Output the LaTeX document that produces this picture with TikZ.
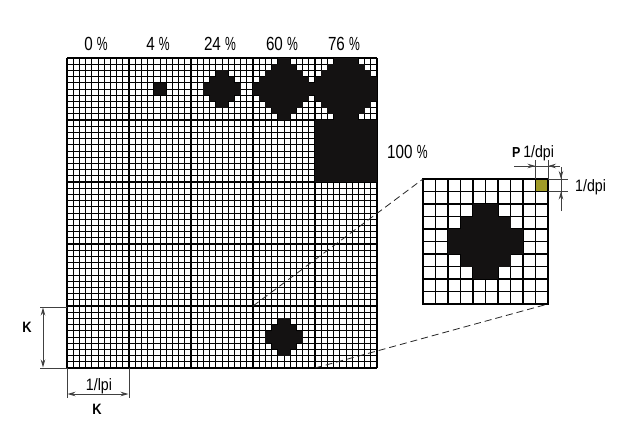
\documentclass[tikz,border=0pt]{standalone}
\usepackage{fontspec}
\usepackage{graphicx}
\setmainfont{Liberation Sans}[FakeStretch=0.86]
\newfontfamily\pctfont{Liberation Sans}[FakeStretch=0.8]
\usetikzlibrary{arrows.meta}
\definecolor{dotfill}{RGB}{20,18,18}
\definecolor{pixgreen}{RGB}{160,155,40}
\newcommand\fillpat[4]{%
  \foreach \r/\a/\b in {#4}
    \fill[dotfill] ({#1+\a*#3},{#2+\r*#3}) rectangle ({#1+(\b+1)*#3},{#2+(\r+1)*#3});}
\newcommand\pct{\scalebox{0.8}[1]{\%}}
\begin{document}
\begin{tikzpicture}[x=1pt,y=-1pt,
  subline/.style={line width=0.8pt,draw=black},
  majline/.style={line width=1.4pt,draw=black},
  dimline/.style={line width=0.8pt,draw=black!75},
  tip/.style={-{Stealth[length=8pt,width=4.5pt]}},
  twotip/.style={{Stealth[length=8pt,width=4.5pt]}-{Stealth[length=8pt,width=4.5pt]}},
  zoomline/.style={line width=0.8pt,dash pattern=on 7pt off 4pt,draw=black!85},
  lab/.style={inner sep=0pt,font=\fontsize{19}{21}\pctfont},
  smlab/.style={inner sep=0pt,font=\fontsize{16.5}{19}\selectfont},
  bflab/.style={inner sep=0pt,font=\fontsize{15}{17}\selectfont\bfseries}]
\useasboundingbox (0,0) rectangle (624,429);
\fill[white] (0,0) rectangle (624,429);

% ---- big grid lines ----
\foreach \k in {0,...,50}{
  \draw[subline] ({67+6.2*\k},58) -- ({67+6.2*\k},368);
  \draw[subline] (67,{58+6.2*\k}) -- (377,{58+6.2*\k});
}
\foreach \k in {0,...,5}{
  \draw[majline] ({67+62*\k},58) -- ({67+62*\k},368);
  \draw[majline] (67,{58+62*\k}) -- (377,{58+62*\k});
}

% ---- dots in the big grid ----
% 4 %
\fillpat{129}{58}{6.2}{4/4/5,5/4/5}
% 24 %
\fillpat{191}{58}{6.2}{2/4/5,3/3/6,4/2/7,5/2/7,6/3/6,7/4/5}
% 60 %
\fillpat{253}{58}{6.2}{0/4/5,1/3/6,2/2/7,3/1/8,4/0/9,5/0/9,6/1/8,7/2/7,8/3/6,9/4/5}
% 76 %
\fillpat{315}{58}{6.2}{0/3/6,1/2/7,2/1/8,3/0/9,4/0/9,5/0/9,6/0/9,7/1/8,8/2/7,9/3/6}
% 100 %
\fill[dotfill] (315,120) rectangle (377,182);
% 24 % in the lowest row
\fillpat{253}{306}{6.2}{2/4/5,3/3/6,4/2/7,5/2/7,6/3/6,7/4/5}

% ---- magnified cell ----
\foreach \k in {0,...,10}{
  \draw[line width=1.05pt] ({423+12.5*\k},179) -- ({423+12.5*\k},304);
  \draw[line width=1.05pt] (423,{179+12.5*\k}) -- (548,{179+12.5*\k});
}
\fillpat{423}{179}{12.5}{2/4/5,3/3/6,4/2/7,5/2/7,6/3/6,7/4/5}
\fill[pixgreen] (536,179.5) rectangle (547.5,191);
\draw[line width=1.4pt] (423,179) rectangle (548,304);

% ---- zoom lines ----
\coordinate (cellTL) at (253,306);
\coordinate (cellBR) at (315,368);
\coordinate (magTL) at (423,179);
\coordinate (magBR) at (548,304);
\draw[zoomline] (cellTL) -- (magTL);
\draw[zoomline] (cellBR) -- (magBR);

% ---- labels of tone values ----
\foreach \t [count=\i from 0] in {0,4,24,60,76}
  \node[lab,anchor=base] (pct\i) at ({67+31+62*\i-2},50.5) {\t\ \pct};
\node[lab,anchor=base west] (full) at (387,158) {100 \pct};

% ---- dimension: 1/dpi horizontal ----
\coordinate (pxL) at (535.5,179);
\coordinate (pxR) at (548,179);
\coordinate (pxLt) at (535.5,160);
\coordinate (pxRt) at (548,160);
\coordinate (hdA) at (514,166);
\coordinate (hdB) at (535.5,166);
\coordinate (hdC) at (548,166);
\coordinate (hdD) at (560,166);
\draw[dimline] (pxL) -- (pxLt);
\draw[dimline] (pxR) -- (pxRt);
\draw[dimline] (hdA) -- (hdD);
\draw[dimline,tip] (hdA) -- (hdB);
\draw[dimline,tip] (hdD) -- (hdC);
\node[smlab,anchor=base west] (dpitop) at (512,157) {{\fontsize{14.5}{16}\selectfont\bfseries P}\,1/dpi};

% ---- dimension: 1/dpi vertical ----
\coordinate (pyT) at (548,179);
\coordinate (pyB) at (548,191.5);
\coordinate (pyTr) at (568,179);
\coordinate (pyBr) at (568,191.5);
\coordinate (vdA) at (561,167);
\coordinate (vdB) at (561,179);
\coordinate (vdC) at (561,191.5);
\coordinate (vdD) at (561,211);
\draw[dimline] (pyT) -- (pyTr);
\draw[dimline] (pyB) -- (pyBr);
\draw[dimline] (vdA) -- (vdD);
\draw[dimline,tip] (vdA) -- (vdB);
\draw[dimline,tip] (vdD) -- (vdC);
\node[smlab,anchor=base west] (dpiright) at (575,191.5) {1/dpi};

% ---- dimension: K vertical ----
\coordinate (kT) at (67,307);
\coordinate (kB) at (67,368);
\coordinate (kTl) at (40,307);
\coordinate (kBl) at (40,368);
\draw[dimline] (kT) -- (kTl);
\draw[dimline] (kB) -- (kBl);
\draw[dimline,twotip] (43,307.5) -- (43,367.5);
\node[bflab] (kleft) at (27,327) {K};

% ---- dimension: 1/lpi horizontal ----
\coordinate (lL) at (67,368);
\coordinate (lR) at (129,368);
\coordinate (lLb) at (67,398);
\coordinate (lRb) at (129,398);
\draw[dimline] (lL) -- (lLb);
\draw[dimline] (lR) -- (lRb);
\draw[dimline,twotip] (67.5,394) -- (128.5,394);
\node[smlab,anchor=base] (lpi) at (99,390) {1/lpi};
\node[bflab,anchor=base] (kbottom) at (97,414) {K};
\end{tikzpicture}
\end{document}
